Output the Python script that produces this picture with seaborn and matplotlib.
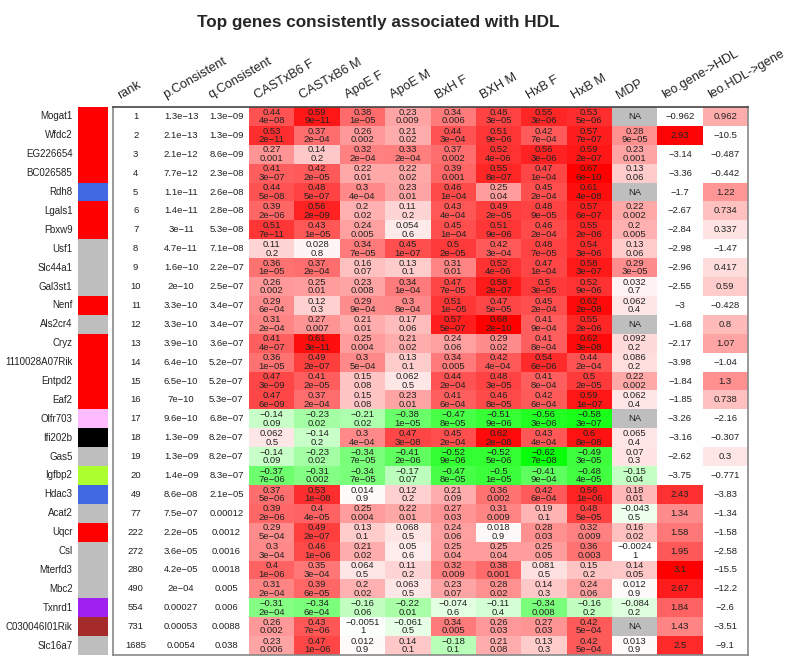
import numpy as np
import matplotlib
matplotlib.use("Agg")
import matplotlib.pyplot as plt
from matplotlib.colors import LinearSegmentedColormap, ListedColormap
import seaborn as sns

sns.set_theme(style="white")
plt.rcParams["font.family"] = ["Liberation Sans", "DejaVu Sans"]

nan = np.nan

TITULO = "Top genes consistently associated with HDL"

colunas = ["rank", "p.Consistent", "q.Consistent", "CASTxB6 F", "CASTxB6 M",
           "ApoE F", "ApoE M", "BxH F", "BXH M", "HxB F", "HxB M", "MDP",
           "leo.gene->HDL", "leo.HDL->gene"]

genes = ["Mogat1", "Wfdc2", "EG226654", "BC026585", "Rdh8", "Lgals1", "Fbxw9",
         "Usf1", "Slc44a1", "Gal3st1", "Nenf", "Als2cr4", "Cryz", "1110028A07Rik",
         "Entpd2", "Eaf2", "Olfr703", "Ifi202b", "Gas5", "Igfbp2", "Hdac3",
         "Acat2", "Uqcr", "Csl", "Mterfd3", "Mbc2", "Txnrd1", "C030046I01Rik",
         "Slc16a7"]

modulos = ["#FF0000", "#FF0000", "#FF0000", "#FF0000", "#4169E1", "#FF0000",
           "#FF0000", "#BEBEBE", "#BEBEBE", "#BEBEBE", "#FF0000", "#BEBEBE",
           "#FF0000", "#FF0000", "#FF0000", "#FF0000", "#FFBBFF", "#000000",
           "#BEBEBE", "#ADFF2F", "#4169E1", "#BEBEBE", "#FF0000", "#BEBEBE",
           "#BEBEBE", "#BEBEBE", "#A020F0", "#A52A2A", "#BEBEBE"]

rank = [1, 2, 3, 4, 5, 6, 7, 8, 9, 10, 11, 12, 13, 14, 15, 16, 17, 18, 19, 20,
        49, 77, 222, 272, 280, 490, 554, 731, 1685]

p_consistent = [1.3e-13, 2.1e-13, 2.1e-12, 7.7e-12, 1.1e-11, 1.4e-11, 3e-11,
                4.7e-11, 1.6e-10, 2e-10, 3.3e-10, 3.3e-10, 3.9e-10, 6.4e-10,
                6.5e-10, 7e-10, 9.6e-10, 1.3e-09, 1.3e-09, 1.4e-09, 8.6e-08,
                7.5e-07, 2.2e-05, 3.6e-05, 4.2e-05, 2e-04, 0.00027, 0.00053, 0.0054]

q_consistent = [1.3e-09, 1.3e-09, 8.6e-09, 2.3e-08, 2.6e-08, 2.8e-08, 5.3e-08,
                7.1e-08, 2.2e-07, 2.5e-07, 3.4e-07, 3.4e-07, 3.6e-07, 5.2e-07,
                5.2e-07, 5.3e-07, 6.8e-07, 8.2e-07, 8.2e-07, 8.3e-07, 2.1e-05,
                0.00012, 0.0012, 0.0016, 0.0018, 0.005, 0.006, 0.0088, 0.038]

# correlacoes: 8 cruzamentos + MDP
cor = np.array([
    [0.44, 0.59, 0.38, 0.23, 0.34, 0.48, 0.55, 0.53, nan],
    [0.53, 0.37, 0.26, 0.21, 0.44, 0.51, 0.42, 0.57, 0.28],
    [0.27, 0.14, 0.32, 0.33, 0.37, 0.52, 0.56, 0.59, 0.23],
    [0.41, 0.42, 0.22, 0.22, 0.39, 0.55, 0.47, 0.67, 0.13],
    [0.44, 0.48, 0.3, 0.23, 0.46, 0.25, 0.45, 0.61, nan],
    [0.39, 0.56, 0.2, 0.11, 0.43, 0.49, 0.48, 0.57, 0.22],
    [0.51, 0.43, 0.24, 0.054, 0.45, 0.51, 0.46, 0.55, 0.2],
    [0.11, 0.028, 0.34, 0.45, 0.5, 0.42, 0.48, 0.54, 0.13],
    [0.36, 0.37, 0.16, 0.13, 0.31, 0.52, 0.47, 0.58, 0.29],
    [0.26, 0.25, 0.23, 0.34, 0.47, 0.58, 0.5, 0.52, 0.032],
    [0.29, 0.12, 0.29, 0.3, 0.51, 0.47, 0.45, 0.62, 0.062],
    [0.31, 0.27, 0.21, 0.17, 0.57, 0.68, 0.41, 0.55, nan],
    [0.41, 0.61, 0.25, 0.21, 0.24, 0.29, 0.41, 0.62, 0.092],
    [0.36, 0.49, 0.3, 0.13, 0.34, 0.42, 0.54, 0.44, 0.086],
    [0.47, 0.41, 0.15, 0.062, 0.44, 0.48, 0.41, 0.5, 0.22],
    [0.47, 0.37, 0.15, 0.23, 0.41, 0.46, 0.42, 0.59, 0.062],
    [-0.14, -0.23, -0.21, -0.38, -0.47, -0.51, -0.56, -0.58, nan],
    [0.062, -0.14, 0.3, 0.47, 0.45, 0.62, 0.43, 0.6, 0.065],
    [-0.14, -0.23, -0.34, -0.41, -0.52, -0.52, -0.62, -0.49, 0.07],
    [-0.37, -0.31, -0.34, -0.17, -0.47, -0.5, -0.41, -0.48, -0.15],
    [0.37, 0.53, 0.014, 0.12, 0.21, 0.36, 0.42, 0.56, 0.18],
    [0.39, 0.4, 0.25, 0.22, 0.27, 0.31, 0.19, 0.48, -0.043],
    [0.29, 0.49, 0.13, 0.068, 0.24, 0.018, 0.28, 0.32, 0.16],
    [0.3, 0.46, 0.21, 0.05, 0.25, 0.25, 0.25, 0.36, -0.0024],
    [0.4, 0.35, 0.064, 0.11, 0.32, 0.38, 0.081, 0.15, 0.14],
    [0.31, 0.39, 0.2, 0.063, 0.23, 0.28, 0.14, 0.24, 0.012],
    [-0.31, -0.34, -0.16, -0.22, -0.074, -0.11, -0.34, -0.16, -0.084],
    [0.26, 0.43, -0.0051, -0.061, 0.34, 0.26, 0.27, 0.42, nan],
    [0.23, 0.47, 0.012, 0.14, -0.18, 0.21, 0.13, 0.42, 0.013],
])

pval = np.array([
    [4e-08, 9e-11, 1e-05, 0.009, 0.006, 3e-05, 3e-06, 5e-06, nan],
    [2e-11, 2e-04, 0.002, 0.02, 3e-04, 9e-06, 7e-04, 7e-07, 9e-05],
    [0.001, 0.2, 2e-04, 2e-04, 0.002, 4e-06, 3e-06, 2e-07, 0.001],
    [3e-07, 2e-05, 0.01, 0.02, 0.001, 8e-07, 1e-04, 6e-10, 0.06],
    [5e-08, 5e-07, 4e-04, 0.01, 1e-04, 0.04, 2e-04, 4e-08, nan],
    [2e-06, 2e-09, 0.02, 0.2, 4e-04, 2e-05, 9e-05, 6e-07, 0.002],
    [7e-11, 1e-05, 0.005, 0.6, 1e-04, 9e-06, 2e-04, 2e-06, 0.005],
    [0.2, 0.8, 7e-05, 1e-07, 2e-05, 3e-04, 7e-05, 3e-06, 0.06],
    [1e-05, 2e-04, 0.07, 0.1, 0.01, 4e-06, 1e-04, 3e-07, 3e-05],
    [0.002, 0.01, 0.008, 1e-04, 7e-05, 2e-07, 3e-05, 9e-06, 0.7],
    [6e-04, 0.3, 9e-04, 8e-04, 1e-05, 5e-05, 2e-04, 2e-08, 0.4],
    [2e-04, 0.007, 0.01, 0.06, 5e-07, 2e-10, 9e-04, 2e-06, nan],
    [4e-07, 3e-11, 0.004, 0.02, 0.06, 0.02, 8e-04, 3e-08, 0.2],
    [1e-05, 2e-07, 5e-04, 0.1, 0.005, 4e-04, 6e-06, 2e-04, 0.2],
    [3e-09, 2e-05, 0.08, 0.5, 2e-04, 3e-05, 8e-04, 2e-05, 0.002],
    [6e-09, 2e-04, 0.08, 0.01, 6e-04, 8e-05, 6e-04, 1e-07, 0.4],
    [0.09, 0.02, 0.02, 1e-05, 8e-05, 9e-06, 3e-06, 3e-07, nan],
    [0.5, 0.2, 4e-04, 3e-08, 2e-04, 2e-08, 4e-04, 8e-08, 0.4],
    [0.09, 0.02, 7e-05, 2e-06, 9e-06, 5e-06, 7e-08, 3e-05, 0.3],
    [7e-06, 0.002, 7e-05, 0.07, 8e-05, 1e-05, 9e-04, 4e-05, 0.04],
    [5e-06, 1e-08, 0.9, 0.2, 0.09, 0.002, 6e-04, 1e-06, 0.01],
    [2e-06, 4e-05, 0.004, 0.01, 0.03, 0.009, 0.1, 5e-05, 0.5],
    [5e-04, 2e-07, 0.1, 0.5, 0.06, 0.9, 0.03, 0.009, 0.02],
    [3e-04, 1e-06, 0.02, 0.6, 0.04, 0.04, 0.05, 0.003, 1],
    [1e-06, 3e-04, 0.5, 0.2, 0.009, 0.001, 0.5, 0.2, 0.05],
    [2e-04, 6e-05, 0.02, 0.5, 0.07, 0.02, 0.3, 0.06, 0.9],
    [2e-04, 6e-04, 0.06, 0.01, 0.6, 0.4, 0.008, 0.2, 0.2],
    [0.002, 7e-06, 1, 0.5, 0.005, 0.03, 0.03, 5e-04, nan],
    [0.006, 1e-06, 0.9, 0.1, 0.1, 0.08, 0.3, 5e-04, 0.9],
])

leo_gene_hdl = [-0.962, 2.93, -3.14, -3.36, -1.7, -2.67, -2.84, -2.98, -2.96,
                -2.55, -3, -1.68, -2.17, -3.98, -1.84, -1.85, -3.26, -3.16,
                -2.62, -3.75, 2.43, 1.34, 1.58, 1.95, 3.1, 2.67, 1.84, 1.43, 2.5]

leo_hdl_gene = [0.962, -10.5, -0.487, -0.442, 1.22, 0.734, 0.337, -1.47, 0.417,
                0.59, -0.428, 0.8, 1.07, -1.04, 1.3, 0.738, -2.16, -0.307, 0.3,
                -0.771, -3.83, -1.34, -1.58, -2.58, -15.5, -12.2, -2.6, -3.51, -9.1]


def formatar(v):
    # imita o format() do R: fixo ou cientifico, o que for mais curto
    fixo = np.format_float_positional(v, trim="-")
    cient = np.format_float_scientific(v, trim="-", exp_digits=2)
    s = fixo if len(fixo) <= len(cient) else cient
    return s.replace("-", "\u2212")


n = len(genes)
leo_g = np.array(leo_gene_hdl)
leo_h = np.array(leo_hdl_gene)

# intensidade de cor por celula (-1 verde, 0 branco, 1 vermelho, 2 = NA cinza)
tom = np.zeros((n, len(colunas)))
tom[:, 3:12] = np.clip(cor / 0.65, -1, 1)
tom[:, 12] = np.clip(leo_g / 3, 0, 1)
tom[:, 13] = np.clip(leo_h / 3, 0, 1)
tom[np.isnan(tom)] = 2

textos = np.empty((n, len(colunas)), dtype=object)
for i in range(n):
    textos[i, 0] = str(rank[i])
    textos[i, 1] = formatar(p_consistent[i])
    textos[i, 2] = formatar(q_consistent[i])
    for k in range(9):
        if np.isnan(cor[i, k]):
            textos[i, 3 + k] = "NA"
        else:
            textos[i, 3 + k] = formatar(cor[i, k]) + "\n" + formatar(pval[i, k])
    textos[i, 12] = formatar(leo_g[i])
    textos[i, 13] = formatar(leo_h[i])

cmap = LinearSegmentedColormap.from_list("vbr", ["#00FF00", "#FFFFFF", "#FF0000"])
cmap.set_over("#BEBEBE")

W, H = 800, 667
fig = plt.figure(figsize=(W / 100, H / 100), dpi=100)
topo, base = 107, 655
ax = fig.add_axes([113 / W, 1 - base / H, (748 - 113) / W, (base - topo) / H])
ax_mod = fig.add_axes([78 / W, 1 - base / H, 30 / W, (base - topo) / H])

sns.heatmap(tom, cmap=cmap, vmin=-1, vmax=1, annot=textos, fmt="", cbar=False,
            xticklabels=False, yticklabels=False, ax=ax,
            annot_kws={"fontsize": 6.8, "color": "#222222", "linespacing": 0.95})
for lado, s in ax.spines.items():
    s.set_visible(True)
    s.set_color("#444444" if lado == "top" else "#888888")
    s.set_linewidth(1.2)

for j, nome in enumerate(colunas):
    ax.text(j + 0.2, -0.3, nome, rotation=30, rotation_mode="anchor",
            ha="left", va="bottom", fontsize=9.2, color="#222222", clip_on=False)

sns.heatmap(np.arange(n).reshape(-1, 1), cmap=ListedColormap(modulos), cbar=False,
            xticklabels=False, yticklabels=genes, ax=ax_mod)
ax_mod.tick_params(axis="y", length=0, pad=4, labelsize=7, labelcolor="#222222")
for t in ax_mod.get_yticklabels():
    t.set_rotation(0)

fig.text(0.4725, 1 - 22 / H, TITULO, ha="center", va="center",
         fontsize=12.3, fontweight="bold")

fig.savefig("out.png", dpi=100)
